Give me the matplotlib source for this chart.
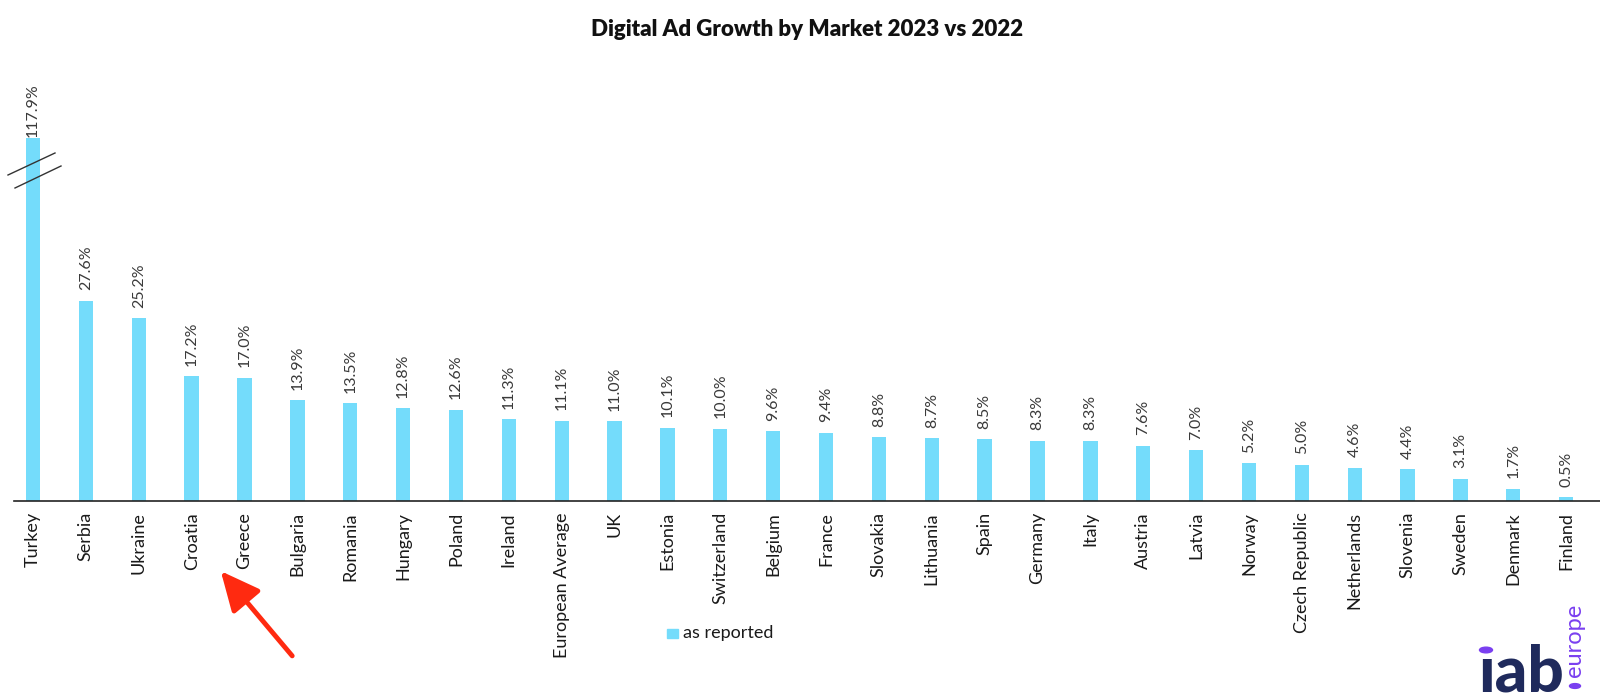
import matplotlib
matplotlib.use("Agg")
import matplotlib.pyplot as plt
from matplotlib.patches import Rectangle, Circle, FancyArrowPatch
import matplotlib.lines as mlines

plt.rcParams['font.family'] = ['Lato', 'DejaVu Sans']

markets = ["Turkey", "Serbia", "Ukraine", "Croatia", "Greece", "Bulgaria", "Romania",
           "Hungary", "Poland", "Ireland", "European Average", "UK", "Estonia",
           "Switzerland", "Belgium", "France", "Slovakia", "Lithuania", "Spain",
           "Germany", "Italy", "Austria", "Latvia", "Norway", "Czech Republic",
           "Netherlands", "Slovenia", "Sweden", "Denmark", "Finland"]
growth = [117.9, 27.6, 25.2, 17.2, 17.0, 13.9, 13.5, 12.8, 12.6, 11.3, 11.1, 11.0, 10.1,
          10.0, 9.6, 9.4, 8.8, 8.7, 8.5, 8.3, 8.3, 7.6, 7.0, 5.2, 5.0, 4.6, 4.4, 3.1,
          1.7, 0.5]
value_labels = [f"{v:.1f}%" for v in growth]
legend_label = "as reported"
title = "Digital Ad Growth by Market 2023 vs 2022"

W, H = 1600, 698
BAR = "#74dcfb"
fig = plt.figure(figsize=(W / 100, H / 100), dpi=100)


def fx(px):
    return px / W


def fy(py):
    return 1 - py / H


ax = fig.add_axes([fx(14), fy(501), fx(1600) - fx(14), fy(138) - fy(501)])
x = list(range(len(markets)))
ymax = 363 / 7.25
ax.bar(x, growth, width=0.27, color=BAR, zorder=2)
ax.set_xlim(-0.36, len(markets) - 1 + 0.64)
ax.set_ylim(0, ymax)

for i, (v, lab) in enumerate(zip(growth, value_labels)):
    top = min(v, ymax)
    off = 1 if v > ymax else 7.5
    ax.annotate(lab, (i, top), xytext=(0, off), textcoords="offset points",
                rotation=90, ha="center", va="bottom", fontsize=11.5,
                color="#3a3a3a", annotation_clip=False)

for s in ["top", "right", "left"]:
    ax.spines[s].set_visible(False)
ax.spines["bottom"].set_color("#222222")
ax.spines["bottom"].set_linewidth(1.2)
ax.set_yticks([])
ax.set_xticks(x)
ax.set_xticklabels(markets, rotation=90, fontsize=13, color="#1a1a1a", va="top", ha="center")
ax.tick_params(axis="x", length=0, pad=8)

# axis break marks on the Turkey bar
for (x0, y0, x1, y1) in [(8, 175, 55, 153), (15, 188, 61, 166)]:
    fig.add_artist(mlines.Line2D([fx(x0), fx(x1)], [fy(y0), fy(y1)],
                                 transform=fig.transFigure, color="#333333", lw=1.0))

fig.text(0.5045, fy(30), title, ha="center", va="center", fontsize=16,
         fontweight="heavy", color="#111111")

# legend
fig.add_artist(Rectangle((fx(667), fy(638)), fx(11), fy(629) - fy(638),
                         transform=fig.transFigure, color=BAR))
fig.text(fx(683), fy(633), legend_label, ha="left", va="center", fontsize=13, color="#1a1a1a")

# red arrow annotation
fig.add_artist(FancyArrowPatch(
    (fx(294), fy(658)), (fx(219), fy(569)), transform=fig.transFigure,
    arrowstyle="-|>,head_length=15,head_width=7", color="#ff2a10", lw=3.5,
    mutation_scale=1.6))

# iab europe logo
fig.text(fx(1478), fy(691), "\u0131ab", ha="left", va="baseline", fontsize=46,
         fontweight="black", color="#1f2a5c")
PURPLE = "#7a3ff0"
fig.add_artist(Circle((fx(1486), fy(650)), 6.5 / W, transform=fig.transFigure, color=PURPLE))
fig.text(fx(1575), fy(604), "europe", rotation=90, ha="center", va="top", fontsize=17,
         color=PURPLE)
fig.add_artist(Circle((fx(1575), fy(686)), 5.5 / W, transform=fig.transFigure, color=PURPLE))

fig.savefig("out.png", dpi=100)
